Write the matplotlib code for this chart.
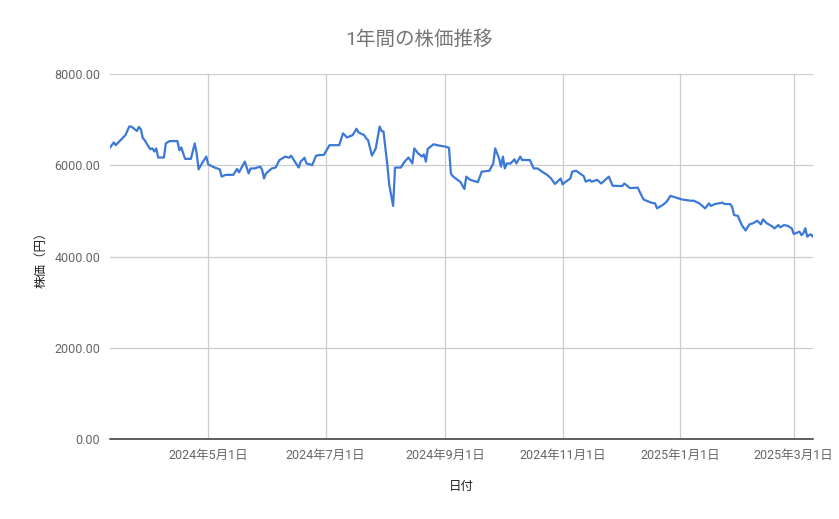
import numpy as np
import pandas as pd
import matplotlib
matplotlib.use("Agg")
import matplotlib.pyplot as plt
import matplotlib.dates as mdates
from matplotlib.ticker import FuncFormatter, MultipleLocator

# ── fonts ─────────────────────────────────────────────────────────────────────
plt.rcParams["font.family"] = ["Roboto", "Noto Sans CJK JP", "DejaVu Sans"]

# ── data ─────────────────────────────────────────────────────────────────────
TITLE  = "1年間の株価推移"
XLABEL = "日付"
YLABEL = "株価（円）"

dates = [
    "2024-03-11", "2024-03-13", "2024-03-14", "2024-03-16", "2024-03-19",
    "2024-03-21", "2024-03-22", "2024-03-25", "2024-03-26", "2024-03-27",
    "2024-03-28", "2024-03-29", "2024-03-31", "2024-04-01", "2024-04-02",
    "2024-04-03", "2024-04-04", "2024-04-05", "2024-04-08", "2024-04-09",
    "2024-04-11", "2024-04-15", "2024-04-16", "2024-04-17", "2024-04-19",
    "2024-04-22", "2024-04-24", "2024-04-25", "2024-04-26", "2024-04-28",
    "2024-04-30", "2024-05-01", "2024-05-04", "2024-05-07", "2024-05-08",
    "2024-05-10", "2024-05-14", "2024-05-16", "2024-05-17", "2024-05-20",
    "2024-05-22", "2024-05-23", "2024-05-25", "2024-05-28", "2024-05-29",
    "2024-05-30", "2024-05-31", "2024-06-03", "2024-06-05", "2024-06-07",
    "2024-06-10", "2024-06-12", "2024-06-13", "2024-06-15", "2024-06-17",
    "2024-06-18", "2024-06-20", "2024-06-21", "2024-06-24", "2024-06-26",
    "2024-06-28", "2024-06-30", "2024-07-03", "2024-07-08", "2024-07-10",
    "2024-07-12", "2024-07-15", "2024-07-17", "2024-07-18", "2024-07-21",
    "2024-07-22", "2024-07-23", "2024-07-25", "2024-07-27", "2024-07-29",
    "2024-07-30", "2024-07-31", "2024-08-02", "2024-08-03", "2024-08-05",
    "2024-08-06", "2024-08-09", "2024-08-11", "2024-08-13", "2024-08-15",
    "2024-08-16", "2024-08-18", "2024-08-20", "2024-08-21", "2024-08-22",
    "2024-08-23", "2024-08-26", "2024-08-29", "2024-09-01", "2024-09-03",
    "2024-09-04", "2024-09-05", "2024-09-09", "2024-09-11", "2024-09-12",
    "2024-09-14", "2024-09-18", "2024-09-20", "2024-09-24", "2024-09-26",
    "2024-09-27", "2024-09-29", "2024-09-30", "2024-10-01", "2024-10-02",
    "2024-10-03", "2024-10-05", "2024-10-07", "2024-10-08", "2024-10-10",
    "2024-10-11", "2024-10-15", "2024-10-17", "2024-10-19", "2024-10-22",
    "2024-10-24", "2024-10-26", "2024-10-28", "2024-10-31", "2024-11-01",
    "2024-11-02", "2024-11-05", "2024-11-06", "2024-11-08", "2024-11-12",
    "2024-11-13", "2024-11-15", "2024-11-16", "2024-11-19", "2024-11-21",
    "2024-11-25", "2024-11-27", "2024-12-02", "2024-12-03", "2024-12-06",
    "2024-12-10", "2024-12-11", "2024-12-13", "2024-12-17", "2024-12-19",
    "2024-12-20", "2024-12-23", "2024-12-25", "2024-12-27", "2025-01-02",
    "2025-01-07", "2025-01-08", "2025-01-11", "2025-01-14", "2025-01-16",
    "2025-01-17", "2025-01-19", "2025-01-23", "2025-01-24", "2025-01-27",
    "2025-01-28", "2025-01-29", "2025-01-31", "2025-02-02", "2025-02-04",
    "2025-02-06", "2025-02-08", "2025-02-10", "2025-02-12", "2025-02-13",
    "2025-02-15", "2025-02-18", "2025-02-19", "2025-02-21", "2025-02-22",
    "2025-02-24", "2025-02-26", "2025-02-28", "2025-03-01", "2025-03-02",
    "2025-03-04", "2025-03-05", "2025-03-06", "2025-03-07", "2025-03-08",
    "2025-03-09", "2025-03-10", "2025-03-11",
]

prices = [
    6390, 6500, 6440, 6530, 6660,
    6850, 6850, 6750, 6840, 6790,
    6600, 6550, 6410, 6350, 6370,
    6300, 6370, 6170, 6170, 6480,
    6530, 6530, 6330, 6390, 6140,
    6140, 6480, 6260, 5910, 6060,
    6190, 6020, 5955, 5910, 5750,
    5790, 5790, 5920, 5845, 6080,
    5820, 5930, 5930, 5970, 5900,
    5710, 5820, 5930, 5950, 6115,
    6190, 6165, 6210, 6080, 5950,
    6080, 6165, 6040, 6005, 6210,
    6225, 6225, 6440, 6440, 6700,
    6610, 6660, 6800, 6720, 6660,
    6590, 6550, 6210, 6370, 6850,
    6750, 6740, 6005, 5570, 5110,
    5950, 5950, 6080, 6170, 6040,
    6370, 6260, 6190, 6240, 6080,
    6360, 6460, 6430, 6410, 6385,
    5820, 5760, 5630, 5480, 5750,
    5680, 5630, 5860, 5880, 6040,
    6370, 6150, 5970, 6190, 5930,
    6040, 6040, 6130, 6040, 6190,
    6115, 6115, 5930, 5930, 5840,
    5790, 5710, 5590, 5710, 5580,
    5620, 5710, 5860, 5880, 5760,
    5640, 5680, 5640, 5680, 5600,
    5750, 5550, 5545, 5600, 5500,
    5510, 5420, 5250, 5180, 5165,
    5056, 5130, 5200, 5330, 5250,
    5220, 5225, 5165, 5056, 5165,
    5107, 5150, 5180, 5150, 5150,
    5090, 4910, 4890, 4690, 4570,
    4705, 4730, 4785, 4705, 4815,
    4730, 4655, 4615, 4690, 4640,
    4690, 4670, 4615, 4495, 4510,
    4545, 4470, 4510, 4620, 4435,
    4470, 4485, 4435,
]

y_ticks = [0, 2000, 4000, 6000, 8000]

df = pd.DataFrame({"date": pd.to_datetime(dates), "price": prices})

# ── figure ────────────────────────────────────────────────────────────────────
fig = plt.figure(figsize=(8.39, 5.19), dpi=100, facecolor="white")
ax = fig.add_axes([0.1311, 0.1541, 0.8379, 0.7033])

ax.plot(df["date"], df["price"], color="#3C78D8", linewidth=1.6,
        solid_joinstyle="round", zorder=3)

# axes ranges
ax.set_xlim(df["date"].iloc[0], df["date"].iloc[-1])
ax.set_ylim(y_ticks[0], y_ticks[-1])
ax.set_yticks(y_ticks)
ax.yaxis.set_major_formatter(FuncFormatter(lambda v, p: f"{v:.2f}"))

ax.xaxis.set_major_locator(mdates.MonthLocator(bymonth=[1, 3, 5, 7, 9, 11]))
ax.xaxis.set_major_formatter(
    FuncFormatter(lambda v, p: "{0}年{1}月{2}日".format(
        mdates.num2date(v).year, mdates.num2date(v).month,
        mdates.num2date(v).day)))

# grid / spines
ax.grid(True, color="#CCCCCC", linewidth=0.9, zorder=0)
ax.set_axisbelow(True)
for side in ["top", "right", "left"]:
    ax.spines[side].set_visible(False)
ax.spines["bottom"].set_color("#333333")
ax.spines["bottom"].set_linewidth(1.1)
ax.spines["bottom"].set_zorder(4)

ax.tick_params(axis="both", length=0, labelsize=9, colors="#666666")
ax.tick_params(axis="x", pad=7)
ax.tick_params(axis="y", pad=7)

# labels
fig.text(0.5, 1 - 40 / 519, TITLE, ha="center", va="center",
         fontsize=14, color="#757575")
ax.set_xlabel(XLABEL, fontsize=9, color="#222222", labelpad=13)
ax.set_ylabel(YLABEL, fontsize=9, color="#222222", labelpad=5)

plt.savefig("out.png", dpi=100, facecolor=fig.get_facecolor())
plt.close()
